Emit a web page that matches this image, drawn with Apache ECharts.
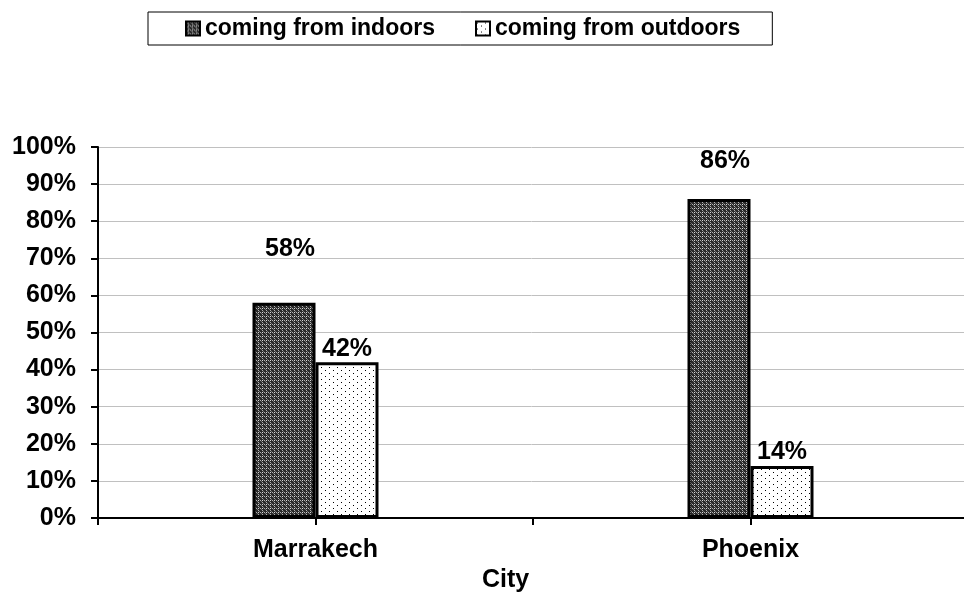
<!DOCTYPE html>
<html><head><meta charset="utf-8">
<script src="https://cdn.jsdelivr.net/npm/echarts@6/dist/echarts.min.js"></script>
<style>html,body{margin:0;padding:0;background:#fff}#c{width:964px;height:616px}</style>
</head><body><div id="c"></div>
<script>
const categories = ['Marrakech', 'Phoenix'];
const seriesNames = ['coming from indoors', 'coming from outdoors'];
const indoors = [58, 86];
const outdoors = [42, 14];
const yTicks = [0, 10, 20, 30, 40, 50, 60, 70, 80, 90, 100];

function makePattern(kind) {
  const c = document.createElement('canvas');
  if (kind === 'dark') {
    c.width = 4; c.height = 4;
    const g = c.getContext('2d');
    g.fillStyle = '#2a2a2a'; g.fillRect(0, 0, 4, 4);
    g.fillStyle = '#b0b0b0';
    g.fillRect(0, 0, 1, 1); g.fillRect(2, 2, 1, 1);
    g.fillStyle = '#707070';
    g.fillRect(1, 1, 1, 1); g.fillRect(3, 3, 1, 1);
    g.fillStyle = '#d8d8d8';
    g.fillRect(2, 0, 1, 1);
  } else {
    c.width = 8; c.height = 6;
    const g = c.getContext('2d');
    g.fillStyle = '#ffffff'; g.fillRect(0, 0, 8, 6);
    g.fillStyle = '#000000';
    g.fillRect(1, 1, 1, 1); g.fillRect(5, 4, 1, 1);
  }
  return c;
}

const font = 'Liberation Sans, Arial, sans-serif';
const chart = echarts.init(document.getElementById('c'), null, {renderer: 'canvas'});

const indoorLabelAdjust = [{offset: [6, -33]}, {offset: [6, -17]}];

chart.setOption({
  animation: false,
  legend: {
    left: 148, top: 12,
    padding: [5, 32, 5, 37],
    borderColor: '#000', borderWidth: 1,
    itemWidth: 14, itemHeight: 14, itemGap: 40,
    icon: 'rect',
    textStyle: {fontFamily: font, fontWeight: 'bold', fontSize: 23, color: '#000'},
    data: seriesNames
  },
  grid: {left: 98, width: 870, top: 147, bottom: 98, outerBoundsMode: 'none'},
  xAxis: [{
    type: 'category', data: categories,
    axisLine: {lineStyle: {color: '#000', width: 2}},
    axisTick: {show: false},
    axisLabel: {color: '#000', fontFamily: font, fontWeight: 'bold', fontSize: 25, margin: 20},
    name: 'City', nameLocation: 'middle', nameGap: 48,
    nameTextStyle: {color: '#000', fontFamily: font, fontWeight: 'bold', fontSize: 25, padding: [0, 55, 0, 0]}
  }, {
    type: 'category', data: ['', '', '', ''], position: 'bottom',
    axisLine: {show: false},
    axisTick: {show: true, length: 7, lineStyle: {color: '#000', width: 2}},
    axisLabel: {show: false}
  }],
  yAxis: {
    type: 'value', min: 0, max: 100, interval: 10,
    axisLine: {show: true, lineStyle: {color: '#000', width: 2}},
    axisTick: {show: true, length: 7, lineStyle: {color: '#000', width: 2}},
    axisLabel: {color: '#000', fontFamily: font, fontWeight: 'bold', fontSize: 25, margin: 22,
      formatter: v => yTicks.includes(v) ? v + '%' : ''},
    splitLine: {lineStyle: {color: '#c0c0c0', width: 1}}
  },
  series: [{
    name: seriesNames[0], type: 'bar', barWidth: 63, barGap: '0%',
    itemStyle: {color: {image: makePattern('dark'), repeat: 'repeat'}, borderColor: '#000', borderWidth: 3},
    label: {show: true, position: 'top', distance: 8, formatter: '{c}%', color: '#000',
      fontFamily: font, fontWeight: 'bold', fontSize: 25},
    data: indoors.map((v, i) => ({value: v, label: indoorLabelAdjust[i]}))
  }, {
    name: seriesNames[1], type: 'bar', barWidth: 63, barGap: '0%',
    itemStyle: {color: {image: makePattern('light'), repeat: 'repeat'}, borderColor: '#000', borderWidth: 3},
    label: {show: true, position: 'top', distance: 1, formatter: '{c}%', color: '#000',
      fontFamily: font, fontWeight: 'bold', fontSize: 25},
    data: outdoors
  }]
});
</script></body></html>
